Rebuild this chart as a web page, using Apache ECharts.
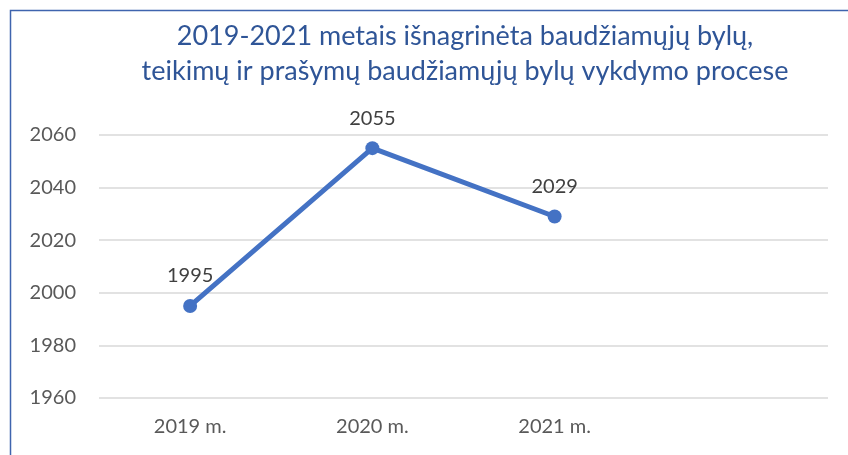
<!DOCTYPE html>
<html><head><meta charset="utf-8">
<script src="https://cdn.jsdelivr.net/npm/echarts@6/dist/echarts.min.js"></script>
<style>html,body{margin:0;padding:0;background:#fff}#c{width:848px;height:455px}</style>
</head><body><div id="c"></div>
<script>
var categories = ['2019 m.', '2020 m.', '2021 m.', ''];
var values = [1995, 2055, 2029, null];
var titleText = '2019-2021 metais išnagrinėta baudžiamųjų bylų,\nteikimų ir prašymų baudžiamųjų bylų vykdymo procese';
var yMin = 1960, yMax = 2060, yStep = 20;
var font = 'Lato';
var chart = echarts.init(document.getElementById('c'));
chart.setOption({
  animation: false,
  graphic: [{type:'rect', shape:{x:10.5,y:10.5,width:900,height:500}, style:{fill:'none', stroke:'#3F64AE', lineWidth:1.5}, silent:true}],
  title: {text: titleText, left: 460, top: 14, textAlign: 'center',
    textStyle:{fontFamily:font, fontSize:27, fontWeight:'normal', color:'#2F5597', lineHeight:35}},
  grid: {left: 99, right: 20, top: 135, bottom: 57},
  xAxis: {type:'category', data: categories, boundaryGap: true,
    axisLine:{show:false}, axisTick:{show:false},
    axisLabel:{margin:19, fontFamily:font, fontSize:20, color:'#595959'}},
  yAxis: {type:'value', min:yMin, max:yMax, interval:yStep,
    axisLine:{show:false}, axisTick:{show:false},
    axisLabel:{margin:23, fontFamily:font, fontSize:20, color:'#595959', formatter: function(v){return String(v);}},
    splitLine:{lineStyle:{color:'#D9D9D9', width:1.5}}},
  series: [{type:'line', data: values, symbol:'circle', symbolSize:14,
    lineStyle:{color:'#4472C4', width:5}, itemStyle:{color:'#4472C4'},
    label:{show:true, position:'top', distance:13, fontFamily:font, fontSize:20, color:'#404040'}}]
});
</script></body></html>
